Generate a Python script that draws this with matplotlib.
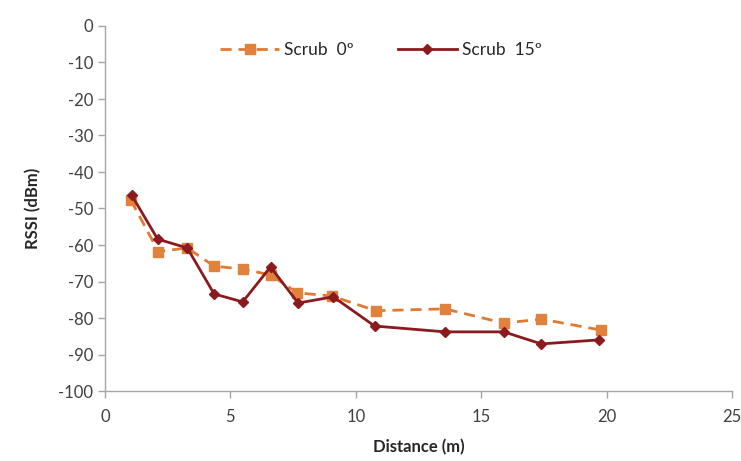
import matplotlib
matplotlib.use("Agg")
import matplotlib.pyplot as plt

plt.rcParams['font.family'] = ['Lato', 'DejaVu Sans']
plt.rcParams['axes.unicode_minus'] = False

# Scrub 0 deg
dist_0 = [1.03, 2.13, 3.28, 4.35, 5.49, 6.6, 7.67, 9.05, 10.8, 13.56, 15.9, 17.4, 19.76]
rssi_0 = [-47.7, -61.8, -60.8, -65.8, -66.6, -68.2, -73.1, -74.0, -78.0, -77.5, -81.4, -80.3, -83.3]

# Scrub 15 deg
dist_15 = [1.06, 2.1, 3.28, 4.35, 5.49, 6.6, 7.7, 9.1, 10.75, 13.56, 15.9, 17.4, 19.7]
rssi_15 = [-46.3, -58.4, -60.8, -73.4, -75.6, -66.0, -75.9, -74.2, -82.2, -83.8, -83.8, -87.1, -86.0]

fig = plt.figure(figsize=(7.41, 4.61), dpi=100)
ax = fig.add_axes([105/741, 1 - 391/461, (732-105)/741, (391-26)/461])

ax.plot(dist_0, rssi_0, color='#E07A32', linestyle=(0, (4, 2.5)), linewidth=2,
        marker='s', markersize=7, markerfacecolor='#E0813C', markeredgecolor='#E0813C',
        label='Scrub  0º')
ax.plot(dist_15, rssi_15, color='#8B1A1F', linestyle='-', linewidth=2,
        marker='D', markersize=5, markerfacecolor='#8B1A1F', markeredgecolor='#8B1A1F',
        label='Scrub  15º')

ax.set_xlim(0, 25)
ax.set_ylim(-100, 0)
ax.set_xticks(range(0, 26, 5))
ax.set_yticks(range(-100, 1, 10))

for s in ['top', 'right']:
    ax.spines[s].set_visible(False)
for s in ['left', 'bottom']:
    ax.spines[s].set_color('#A6A6A6')
    ax.spines[s].set_linewidth(1)

ax.tick_params(axis='both', colors='#A6A6A6', labelcolor='#404040', labelsize=12,
               length=5, width=1, direction='out')
ax.tick_params(axis='x', pad=8)

ax.set_xlabel('Distance (m)', fontsize=12, fontweight='bold', color='#262626', labelpad=10)
ax.set_ylabel('RSSI (dBm)', fontsize=12, fontweight='bold', color='#262626', labelpad=12)

ax.legend(loc='upper center', bbox_to_anchor=(0.44, 1.0), ncol=2, frameon=False,
          fontsize=12.5, handlelength=3.4, columnspacing=2.5, handletextpad=0.3,
          labelcolor='#262626')

fig.savefig('out.png', dpi=100)
